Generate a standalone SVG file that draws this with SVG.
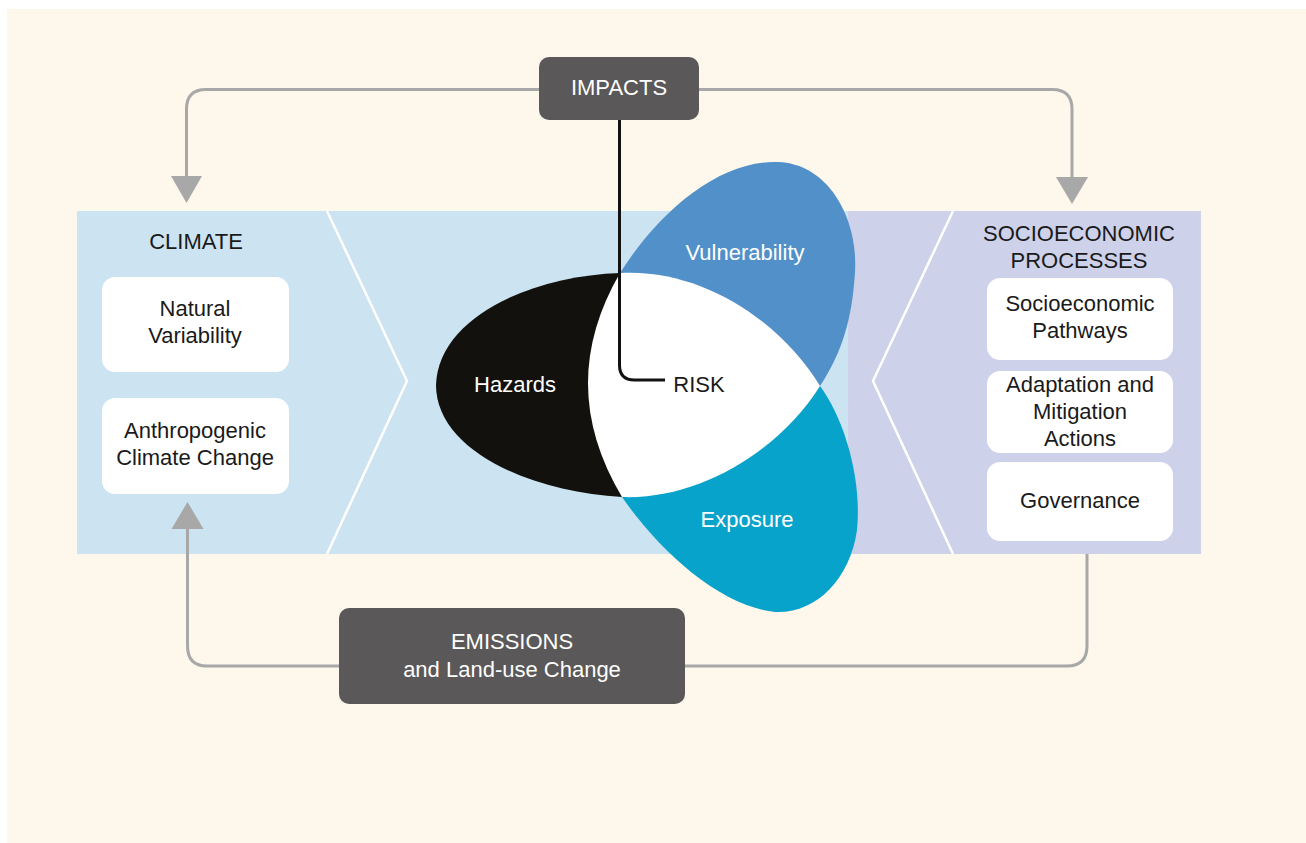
<svg xmlns="http://www.w3.org/2000/svg" width="1306" height="843" viewBox="0 0 1306 843">
<style>
text{font-family:"Liberation Sans",Arial,Helvetica,sans-serif;font-size:22px;text-anchor:middle}
.dk{fill:#1a1a1a}
.wt{fill:#ffffff}
.box{fill:#ffffff}
.dbox{fill:#5a5859}
.conn{fill:none;stroke:#a8a8a8;stroke-width:3}
.chev{fill:none;stroke:#ffffff;stroke-width:2.5}
</style>
<defs>
<marker id="ah" markerWidth="32" markerHeight="28" refX="16" refY="27" viewBox="0 0 32 28" markerUnits="userSpaceOnUse" orient="auto-start-reverse">
<path d="M0,0 L32,0 L16,28 Z" fill="#a8a8a8"/>
</marker>
</defs>
<rect x="0" y="0" width="1306" height="843" fill="#ffffff"/>
<rect x="7" y="9" width="1299" height="834" fill="#fdf7ec"/>

<g id="panels">
<rect x="77" y="211" width="773" height="343" fill="#cce3f1"/>
<rect x="848" y="211" width="353" height="343" fill="#cdd1ea"/>
<path class="chev" d="M327,211 L407,381 L327,554"/>
<path class="chev" d="M953,211 L873,381 L953,554"/>
</g>

<g id="connectors">
<path class="conn" d="M540,89.5 L206,89.5 Q186.5,89.5 186.5,109 L186.5,178"/>
<path d="M171,176 L202,176 L186.5,203 Z" fill="#a8a8a8"/>
<path class="conn" d="M698,89.5 L1052,89.5 Q1072,89.5 1072,109 L1072,178"/>
<path d="M1056,177 L1088,177 L1072,204 Z" fill="#a8a8a8"/>
<path class="conn" d="M1087,554 L1087,646 Q1087,666 1067,666 L207,666 Q187.5,666 187.5,646 L187.5,527"/>
<path d="M171.5,529 L203.5,529 L187.5,502 Z" fill="#a8a8a8"/>
</g>

<g id="climate">
<text class="dk" x="196" y="249">CLIMATE</text>
</g>
<g id="natural-variability">
<rect class="box" x="102" y="277" width="187" height="95" rx="13"/>
<text class="dk" x="195" y="316">Natural</text>
<text class="dk" x="195" y="343">Variability</text>
</g>
<g id="anthropogenic">
<rect class="box" x="102" y="398" width="187" height="96" rx="13"/>
<text class="dk" x="195" y="438">Anthropogenic</text>
<text class="dk" x="195" y="465">Climate Change</text>
</g>

<g id="socioeconomic">
<text class="dk" x="1079" y="241">SOCIOECONOMIC</text>
<text class="dk" x="1079" y="268">PROCESSES</text>
</g>
<g id="pathways">
<rect class="box" x="987" y="278" width="186" height="82" rx="13"/>
<text class="dk" x="1080" y="311">Socioeconomic</text>
<text class="dk" x="1080" y="338">Pathways</text>
</g>
<g id="adaptation">
<rect class="box" x="987" y="371" width="186" height="82" rx="13"/>
<text class="dk" x="1080" y="392">Adaptation and</text>
<text class="dk" x="1080" y="419">Mitigation</text>
<text class="dk" x="1080" y="446">Actions</text>
</g>
<g id="governance">
<rect class="box" x="987" y="462" width="186" height="79" rx="13"/>
<text class="dk" x="1080" y="508">Governance</text>
</g>

<g id="hazards">
<path d="M620,273 C530,276 438,318 436,385 C436,450 530,492 622,497 Z" fill="#12110d"/>
<text class="wt" x="515" y="392">Hazards</text>
</g>
<g id="vulnerability">
<path d="M620,273 C660,210 720,160 778,162 C830,164 858,220 855,272 C852,320 842,352 820,386 Z" fill="#5190c8"/>
<text class="wt" x="745" y="260">Vulnerability</text>
</g>
<g id="exposure">
<path d="M820,386 C845,420 862,480 857,530 C850,580 815,614 775,612 C720,606 660,552 622,497 Z" fill="#08a3cb"/>
<text class="wt" x="747" y="527">Exposure</text>
</g>
<g id="risk">
<path d="M620,273 C700,268 780,320 820,386 C780,450 700,500 622,497 Q555,385 620,273 Z" fill="#ffffff"/>
<text class="dk" x="699" y="392">RISK</text>
</g>

<g id="impacts-link">
<path d="M619.5,118 L619.5,365 Q619.5,380 634.5,380 L665,380" fill="none" stroke="#111111" stroke-width="3"/>
</g>

<g id="impacts">
<rect class="dbox" x="539" y="57" width="160" height="63" rx="10"/>
<text class="wt" x="619" y="95">IMPACTS</text>
</g>
<g id="emissions">
<rect class="dbox" x="339" y="608" width="346" height="96" rx="10"/>
<text class="wt" x="512" y="649">EMISSIONS</text>
<text class="wt" x="512" y="677">and Land-use Change</text>
</g>
</svg>
